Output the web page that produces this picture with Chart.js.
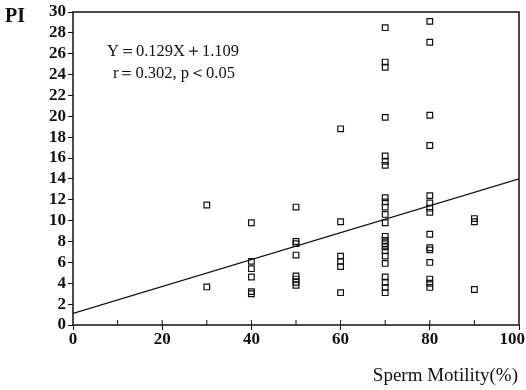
<!DOCTYPE html>
<html>
<head>
<meta charset="utf-8">
<script src="https://cdn.jsdelivr.net/npm/chart.js@4"></script>
<style>
    html, body { margin: 0; padding: 0; background: #fff; }
    #wrap { width: 526px; height: 390px; }
</style>
</head>
<body>
<div id="wrap"><canvas id="chart"></canvas></div>
<script>
// motility groups (x) and PI values
const motility30 = [11.5, 3.65];
const motility40 = [9.8, 6.1, 5.4, 4.6, 3.2, 3.0];
const motility50 = [11.3, 8.0, 7.8, 6.7, 4.7, 4.4, 4.1, 3.8];
const motility60 = [18.8, 9.9, 6.6, 6.1, 5.6, 3.1];
const motility70 = [28.5, 25.2, 24.7, 19.9, 16.2, 15.7, 15.3, 12.2, 11.8, 11.3, 10.6, 9.8,
                    8.5, 8.1, 7.8, 7.5, 7.1, 6.6, 5.9, 4.6, 4.1, 3.6, 3.1];
const motility80 = [29.1, 27.1, 20.1, 17.2, 12.4, 11.7, 11.2, 10.8, 8.7, 7.4, 7.2, 6.0, 4.4, 4.0, 3.6];
const motility90 = [10.2, 9.9, 3.4];

const groups = [[30, motility30], [40, motility40], [50, motility50], [60, motility60],
                [70, motility70], [80, motility80], [90, motility90]];

// regression line Y = 0.129X + 1.109
const slope = 0.129;
const intercept = 1.109;
const lineX = [0, 100];

const yTicks = [0, 2, 4, 6, 8, 10, 12, 14, 16, 18, 20, 22, 24, 26, 28, 30];
const xLabels = [0, 20, 40, 60, 80, 100];

const points = [];
groups.forEach(([x, vals]) => vals.forEach(v => points.push({ x: x, y: v })));

const serif = '"Liberation Serif", "DejaVu Serif", serif';

// frame, inside x ticks, x labels and text
const decorations = {
    id: 'decorations',
    afterDraw(chart) {
        const ctx = chart.ctx;
        const a = chart.chartArea;
        const xs = chart.scales.x;
        ctx.save();
        ctx.strokeStyle = '#111';
        ctx.lineWidth = 1.5;
        ctx.strokeRect(a.left, a.top, a.right - a.left, a.bottom - a.top);

        ctx.lineWidth = 1;
        for (let v = 10; v < 100; v += 10) {
            const px = xs.getPixelForValue(v);
            ctx.beginPath();
            ctx.moveTo(px, a.bottom);
            ctx.lineTo(px, a.bottom - 5);
            ctx.stroke();
        }

        ctx.fillStyle = '#111';
        ctx.textBaseline = 'middle';
        ctx.font = 'bold 17px ' + serif;
        ctx.textAlign = 'center';
        xLabels.forEach(v => {
            const txt = String(v);
            const w = ctx.measureText(txt).width;
            let px = xs.getPixelForValue(v);
            px = Math.min(px, 525 - w / 2);
            ctx.fillText(txt, px, a.bottom + 15);
        });

        ctx.textAlign = 'left';
        ctx.font = 'bold 20px ' + serif;
        ctx.fillText('PI', 5, 17);
        ctx.font = '16.5px ' + serif;
        ctx.fillText('Y\uFF1D0.129X\uFF0B1.109', 107, 52);
        ctx.fillText('r\uFF1D0.302, p\uFF1C0.05', 113, 74);
        ctx.textAlign = 'right';
        ctx.font = '19px ' + serif;
        ctx.fillText('Sperm Motility(%)', 518, 376);
        ctx.restore();
    }
};

new Chart(document.getElementById('chart'), {
    type: 'scatter',
    data: {
        datasets: [{
            label: 'PI',
            data: points,
            pointStyle: 'rect',
            pointRadius: 4,
            pointHoverRadius: 4,
            pointBorderWidth: 1.2,
            pointBorderColor: '#111',
            pointBackgroundColor: 'rgba(255,255,255,0)'
        }, {
            type: 'line',
            label: 'fit',
            data: lineX.map(x => ({ x: x, y: slope * x + intercept })),
            borderColor: '#111',
            borderWidth: 1.3,
            pointRadius: 0,
            fill: false
        }]
    },
    options: {
        responsive: true,
        maintainAspectRatio: false,
        animation: false,
        layout: { padding: { top: 12, right: 7, left: 0, bottom: 0 } },
        plugins: {
            legend: { display: false },
            tooltip: { enabled: false }
        },
        scales: {
            x: {
                type: 'linear',
                min: 0,
                max: 100,
                afterFit: scale => {
                    scale.height = 65;
                    scale.paddingLeft = 0;
                    scale.paddingRight = 0;
                },
                afterBuildTicks: scale => { scale.ticks = xLabels.map(v => ({ value: v })); },
                grid: { drawOnChartArea: false, drawTicks: true, tickLength: 5, color: '#111' },
                border: { display: false },
                ticks: { display: false }
            },
            y: {
                min: 0,
                max: 30,
                afterFit: scale => {
                    scale.width = 73;
                    scale.paddingTop = 0;
                    scale.paddingBottom = 0;
                },
                afterBuildTicks: scale => { scale.ticks = yTicks.map(v => ({ value: v })); },
                grid: { drawOnChartArea: false, drawTicks: true, tickLength: 5, color: '#111' },
                border: { display: false },
                ticks: {
                    color: '#111',
                    padding: 2,
                    autoSkip: false,
                    font: { family: serif, size: 17, weight: 'bold' }
                }
            }
        }
    },
    plugins: [decorations]
});
</script>
</body>
</html>
